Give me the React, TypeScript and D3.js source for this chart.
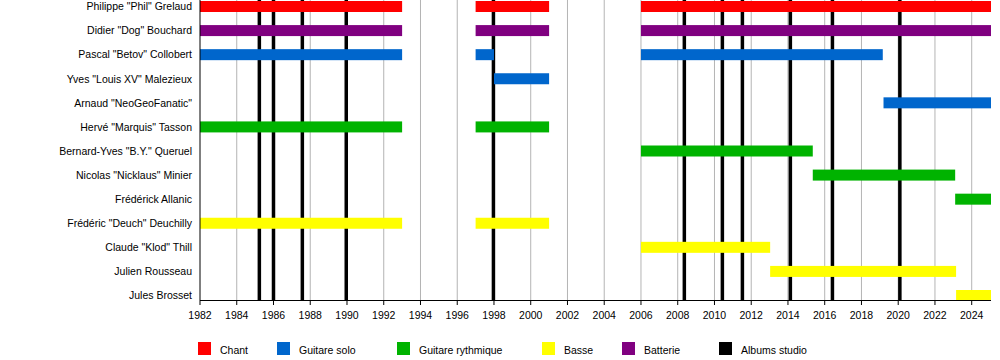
import React from "react";
import * as d3 from "d3";

const members = [
  'Philippe "Phil" Grelaud',
  'Didier "Dog" Bouchard',
  'Pascal "Betov" Collobert',
  'Yves "Louis XV" Malezieux',
  'Arnaud "NeoGeoFanatic"',
  'Hervé "Marquis" Tasson',
  'Bernard-Yves "B.Y." Queruel',
  'Nicolas "Nicklaus" Minier',
  'Frédérick Allanic',
  'Frédéric "Deuch" Deuchilly',
  'Claude "Klod" Thill',
  'Julien Rousseau',
  'Jules Brosset',
];

const roles = ["Chant", "Guitare solo", "Guitare rythmique", "Basse", "Batterie"];
const roleColors = ["#ff0000", "#0066cc", "#00b300", "#ffff00", "#800080"];

const startYear = 1982;
const endYear = 2025.05;

// [member, role, start, end]
const periods: [string, string, number, number][] = [
  ['Philippe "Phil" Grelaud', "Chant", 1982, 1993],
  ['Philippe "Phil" Grelaud', "Chant", 1997, 2001],
  ['Philippe "Phil" Grelaud', "Chant", 2006, endYear],
  ['Didier "Dog" Bouchard', "Batterie", 1982, 1993],
  ['Didier "Dog" Bouchard', "Batterie", 1997, 2001],
  ['Didier "Dog" Bouchard', "Batterie", 2006, endYear],
  ['Pascal "Betov" Collobert', "Guitare solo", 1982, 1993],
  ['Pascal "Betov" Collobert', "Guitare solo", 1997, 1998],
  ['Pascal "Betov" Collobert', "Guitare solo", 2006, 2019.16],
  ['Yves "Louis XV" Malezieux', "Guitare solo", 1998, 2001],
  ['Arnaud "NeoGeoFanatic"', "Guitare solo", 2019.2, endYear],
  ['Hervé "Marquis" Tasson', "Guitare rythmique", 1982, 1993],
  ['Hervé "Marquis" Tasson', "Guitare rythmique", 1997, 2001],
  ['Bernard-Yves "B.Y." Queruel', "Guitare rythmique", 2006, 2015.35],
  ['Nicolas "Nicklaus" Minier', "Guitare rythmique", 2015.35, 2023.1],
  ["Frédérick Allanic", "Guitare rythmique", 2023.1, endYear],
  ['Frédéric "Deuch" Deuchilly', "Basse", 1982, 1993],
  ['Frédéric "Deuch" Deuchilly', "Basse", 1997, 2001],
  ['Claude "Klod" Thill', "Basse", 2006, 2013.03],
  ["Julien Rousseau", "Basse", 2013.03, 2023.15],
  ["Jules Brosset", "Basse", 2023.15, endYear],
];

const albums = [1985.23, 1986.0, 1987.57, 1989.96, 1997.97, 2008.36, 2010.43, 2011.52, 2014.13, 2016.42, 2020.09];

const tickYears = d3.range(1982, 2025, 2);

const legendItems = [...roles, "Albums studio"];
const legendColors = [...roleColors, "#000000"];
const legendX = [198, 277, 397, 542, 622, 719];

export default function App() {
  const W = 1000, H = 360;
  const left = 200, right = 991;
  const top = 6.5, bottom = 295.5;
  const axisY = 300;
  const x = d3.scaleLinear().domain([startYear, endYear]).range([left, right]);
  const y = d3.scalePoint<string>().domain(members).range([top, bottom]);
  const color = d3.scaleOrdinal<string, string>().domain(roles).range(roleColors);
  const barH = 11;
  const font = "'Liberation Sans', Arial, Helvetica, sans-serif";

  return (
    <svg width={W} height={H} style={{ position: "absolute", left: 0, top: 0, background: "#fff" }} fontFamily={font}>
      <rect x={0} y={0} width={W} height={H} fill="#fff" />
      {tickYears.slice(1).map((t) => (
        <line key={"g" + t} x1={x(t)} x2={x(t)} y1={0} y2={axisY} stroke="#b4b4b4" strokeWidth={1} />
      ))}
      {albums.map((a, i) => (
        <line key={"a" + i} x1={x(a)} x2={x(a)} y1={0} y2={axisY} stroke="#000" strokeWidth={3.5} />
      ))}
      {periods.map(([m, r, s, e], i) => (
        <rect key={"b" + i} x={x(s)} y={(y(m) as number) - barH / 2} width={x(e) - x(s)} height={barH} fill={color(r)} />
      ))}
      <line x1={left} x2={left} y1={0} y2={axisY} stroke="#000" strokeWidth={1} />
      <line x1={left} x2={right} y1={axisY + 0.5} y2={axisY + 0.5} stroke="#000" strokeWidth={1} />
      {tickYears.map((t) => (
        <g key={"t" + t}>
          <line x1={x(t)} x2={x(t)} y1={axisY} y2={axisY + 5} stroke="#000" strokeWidth={1} />
          <text x={x(t)} y={319} fontSize={10.5} textAnchor="middle" fill="#000">{t}</text>
        </g>
      ))}
      {members.map((m) => (
        <text key={"l" + m} x={192} y={(y(m) as number) + 3.8} fontSize={10.5} textAnchor="end" fill="#000">{m}</text>
      ))}
      {legendItems.map((l, i) => (
        <g key={"lg" + l}>
          <rect x={legendX[i]} y={342} width={13} height={13} fill={legendColors[i]} />
          <text x={legendX[i] + 22} y={353.5} fontSize={10.5} fill="#000">{l}</text>
        </g>
      ))}
    </svg>
  );
}
